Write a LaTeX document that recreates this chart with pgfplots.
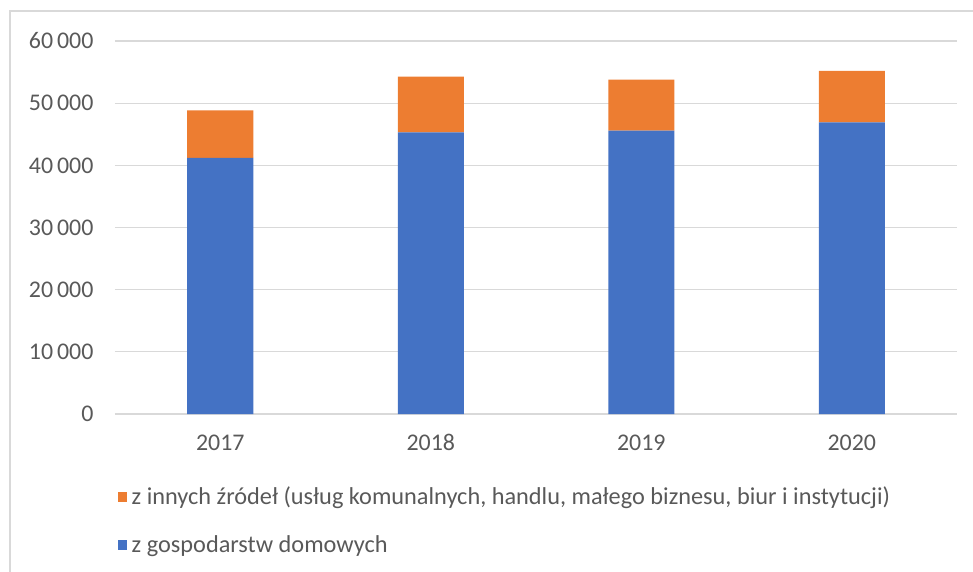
\documentclass[border=0pt]{standalone}
\usepackage{pgfplots}
\pgfplotsset{compat=1.18}
\usepackage{fontspec}
\setmainfont{Carlito}
\definecolor{cblue}{HTML}{4472C4}
\definecolor{corange}{HTML}{ED7D31}
\definecolor{cgrid}{HTML}{D9D9D9}
\definecolor{ctext}{HTML}{595959}
\begin{document}
\begin{tikzpicture}
\useasboundingbox (-115bp,-158bp) rectangle (858bp,414bp);
\draw[cgrid, line width=1.5bp] (-105bp,-158bp) -- (-105bp,403bp) -- (858bp,403bp);
\begin{axis}[
  scale only axis,
  width=842bp, height=373bp,
  ybar stacked,
  bar width=66bp,
  xmin=-0.5, xmax=3.5,
  ymin=0, ymax=60000,
  scaled y ticks=false,
  xtick={0,1,2,3},
  xticklabels={2017,2018,2019,2020},
  ytick={0,10000,20000,30000,40000,50000,60000},
  yticklabels={0,10\,000,20\,000,30\,000,40\,000,50\,000,60\,000},
  ymajorgrids,
  grid style={cgrid, line width=1.2bp},
  axis x line*=bottom,
  axis y line*=left,
  x axis line style={draw=cgrid, line width=1.2bp, -},
  y axis line style={draw=none},
  major tick length=0pt,
  tick style={draw=none},
  ticklabel style={font=\fontsize{24}{28}\selectfont, text=ctext},
  xticklabel style={yshift=-21bp, text height=12bp, text depth=0pt},
  yticklabel style={xshift=-18bp},
  legend style={at={(0.003,-0.19)}, anchor=north west, draw=none, fill=none,
    font=\fontsize{24.4}{28}\selectfont, text=ctext, row sep=25bp,
    legend cell align=left, inner sep=0pt,
    nodes={inner xsep=5bp}},
  reverse legend,
  legend image code/.code={\fill[#1] (0bp,-5bp) rectangle (9bp,5bp);},
]
\addplot[fill=cblue, draw=none] coordinates {(0,41200) (1,45300) (2,45600) (3,46900)};
\addplot[fill=corange, draw=none] coordinates {(0,7650) (1,8950) (2,8200) (3,8300)};
\legend{z gospodarstw domowych, z innych źródeł (usług komunalnych{,} handlu{,} małego biznesu{,} biur i instytucji)}
\end{axis}
\end{tikzpicture}
\end{document}
